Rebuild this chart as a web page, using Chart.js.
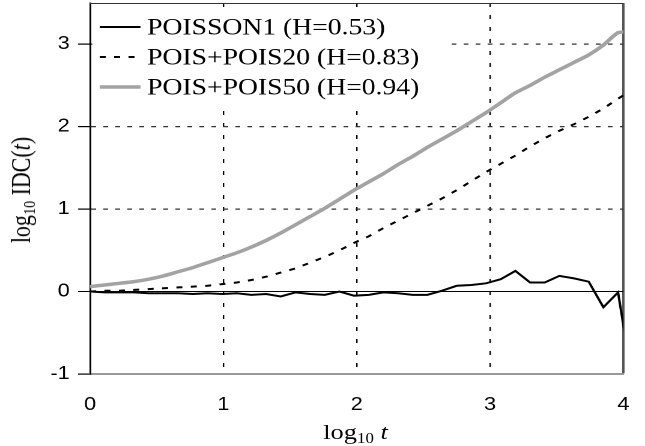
<!DOCTYPE html>
<html>
<head>
<meta charset="utf-8">
<script src="https://cdn.jsdelivr.net/npm/chart.js@4.4.1/dist/chart.umd.min.js"></script>
<style>
    html, body { margin: 0; padding: 0; background: #fff; overflow: hidden; }
    /* the reference is stretched sideways, so the whole chart is drawn narrow and widened */
    #wrap { position: relative; width: 537px; height: 446px; transform: scaleX(1.2011); transform-origin: 0 0; }
    #box  { position: absolute; left: 0; top: 0; width: 537px; height: 446px; }
    .ttl  { position: absolute; font-family: "Liberation Serif", "Times New Roman", serif; font-size: 22px; color: #000; white-space: nowrap; line-height: 22px; }
    .ttl sub { font-size: 14px; vertical-align: -4px; line-height: 0; }
    #x-title { left: 296px; top: 421px; transform: translateX(-50%); }
    #y-title { left: 18px; top: 190px; transform: translate(-50%, -50%) rotate(-90deg); }
</style>
</head>
<body>
<div id="wrap">
    <div id="box"><canvas id="chart-idc"></canvas></div>
    <div class="ttl" id="x-title">log<sub>10</sub> <i>t</i></div>
    <div class="ttl" id="y-title">log<sub>10</sub> IDC(<i>t</i>)</div>
</div>
<script>
const logT = [0, 0.11, 0.22, 0.33, 0.44, 0.55, 0.66, 0.77, 0.88, 0.99,
              1.10, 1.21, 1.32, 1.43, 1.54, 1.65, 1.76, 1.87, 1.98, 2.09,
              2.20, 2.31, 2.42, 2.53, 2.64, 2.75, 2.86, 2.97, 3.08, 3.19,
              3.30, 3.41, 3.52, 3.63, 3.74, 3.85, 3.96, 4.07];

const poisson1 = [0.00, -0.01, -0.01, -0.01, -0.02, -0.02, -0.02, -0.03, -0.02, -0.03,
                  -0.02, -0.04, -0.03, -0.06, -0.01, -0.03, -0.04, 0.00, -0.05, -0.04,
                  -0.01, -0.02, -0.04, -0.04, 0.01, 0.07, 0.08, 0.10, 0.15, 0.25,
                  0.11, 0.11, 0.19, 0.16, 0.12, -0.19, -0.01, -1.10];

const poisPois20 = [0.00, 0.01, 0.01, 0.02, 0.03, 0.04, 0.05, 0.06, 0.07, 0.09,
                    0.11, 0.14, 0.18, 0.23, 0.28, 0.35, 0.42, 0.50, 0.59, 0.67,
                    0.77, 0.86, 0.95, 1.04, 1.13, 1.23, 1.34, 1.45, 1.55, 1.65,
                    1.76, 1.86, 1.95, 2.03, 2.12, 2.22, 2.34, 2.45];

const poisPois50 = [0.06, 0.08, 0.10, 0.12, 0.15, 0.19, 0.24, 0.29, 0.35, 0.41,
                    0.47, 0.54, 0.62, 0.71, 0.81, 0.91, 1.01, 1.12, 1.23, 1.33,
                    1.43, 1.54, 1.64, 1.75, 1.85, 1.95, 2.06, 2.17, 2.29, 2.41,
                    2.50, 2.60, 2.69, 2.78, 2.87, 2.99, 3.14, 3.15];

const seriesLabels = ['POISSON1 (H=0.53)', 'POIS+POIS20 (H=0.83)', 'POIS+POIS50 (H=0.94)'];

const xTicks = [0, 1, 2, 3, 4];
const yTicks = [-1, 0, 1, 2, 3];

const toPoints = ys => ys.map((y, i) => ({ x: logT[i], y }));

// legend sits inside the plot on a white box that hides the grid behind it
const insideLegend = {
    id: 'insideLegend',
    beforeDatasetsDraw(chart) {
        const { ctx, chartArea } = chart;
        const left = chartArea.left;
        ctx.save();
        ctx.fillStyle = '#fff';
        ctx.fillRect(left + 2, chartArea.top + 5, 295, 95);
        ctx.font = '23px "Liberation Serif", "Times New Roman", serif';
        ctx.textBaseline = 'alphabetic';
        chart.data.datasets.forEach((ds, i) => {
            const y = chartArea.top + 24 + i * 30;
            ctx.beginPath();
            ctx.setLineDash(ds.borderDash || []);
            ctx.lineWidth = ds.borderWidth;
            ctx.strokeStyle = ds.borderColor;
            ctx.moveTo(left + 8, y);
            ctx.lineTo(left + 42, y);
            ctx.stroke();
            ctx.setLineDash([]);
            ctx.fillStyle = '#000';
            ctx.fillText(ds.label, left + 47.5, y + 7.5);
        });
        ctx.restore();
    },
    afterDraw(chart) {
        const { ctx, chartArea } = chart;
        ctx.save();
        ctx.strokeStyle = '#333';
        ctx.lineWidth = 1;
        ctx.beginPath();
        ctx.moveTo(chartArea.left, chartArea.top + 0.5);
        ctx.lineTo(chartArea.right, chartArea.top + 0.5);
        ctx.stroke();
        ctx.restore();
    }
};

new Chart(document.getElementById('chart-idc').getContext('2d'), {
    type: 'line',
    data: {
        datasets: [
            {
                label: seriesLabels[0],
                data: toPoints(poisson1),
                borderColor: '#000',
                borderWidth: 2,
                pointRadius: 0,
                tension: 0,
            },
            {
                label: seriesLabels[1],
                data: toPoints(poisPois20),
                borderColor: '#000',
                borderWidth: 2,
                borderDash: [5, 7],
                pointRadius: 0,
                tension: 0,
            },
            {
                label: seriesLabels[2],
                data: toPoints(poisPois50),
                borderColor: '#a3a3a3',
                borderWidth: 3.5,
                pointRadius: 0,
                tension: 0.2,
            },
        ]
    },
    options: {
        animation: false,
        responsive: true,
        maintainAspectRatio: false,
        devicePixelRatio: 2,
        layout: { padding: { top: 3, right: 18, left: 0, bottom: 0 } },
        plugins: {
            legend: { display: false },
            tooltip: { enabled: false },
        },
        scales: {
            x: {
                type: 'linear',
                min: 0, max: 4,
                afterFit: s => { s.height = 72; s.paddingLeft = 0; s.paddingRight = 0; },
                afterBuildTicks: s => { s.ticks = xTicks.map(v => ({ value: v })); },
                ticks: {
                    color: '#000',
                    padding: 20,
                    font: { family: '"Liberation Sans", Arial, sans-serif', size: 18 },
                },
                grid: {
                    drawTicks: false,
                    color: c => c.tick && c.tick.value === 4 ? '#555' : '#000',
                    lineWidth: c => c.tick && c.tick.value === 4 ? 2 : 1.2,
                },
                border: {
                    color: '#999',
                    width: 2,
                    dash: c => c.tick && c.tick.value === 4 ? [] : [4, 8],
                },
            },
            y: {
                min: -1, max: 3.5,
                afterFit: s => { s.width = 75; s.paddingTop = 0; s.paddingBottom = 0; },
                afterBuildTicks: s => { s.ticks = yTicks.map(v => ({ value: v })); },
                ticks: {
                    color: '#000',
                    padding: 7,
                    font: { family: '"Liberation Sans", Arial, sans-serif', size: 18 },
                },
                grid: {
                    drawTicks: true,
                    tickLength: 10,
                    tickColor: '#000',
                    color: c => c.tick && c.tick.value === 0 ? '#000' : '#333',
                    lineWidth: c => c.tick && c.tick.value === 0 ? 1 : 1.2,
                },
                border: {
                    color: '#000',
                    width: 1.5,
                    dash: c => c.tick && c.tick.value === 0 ? [] : [4, 6],
                },
            }
        }
    },
    plugins: [insideLegend]
});
</script>
</body>
</html>
